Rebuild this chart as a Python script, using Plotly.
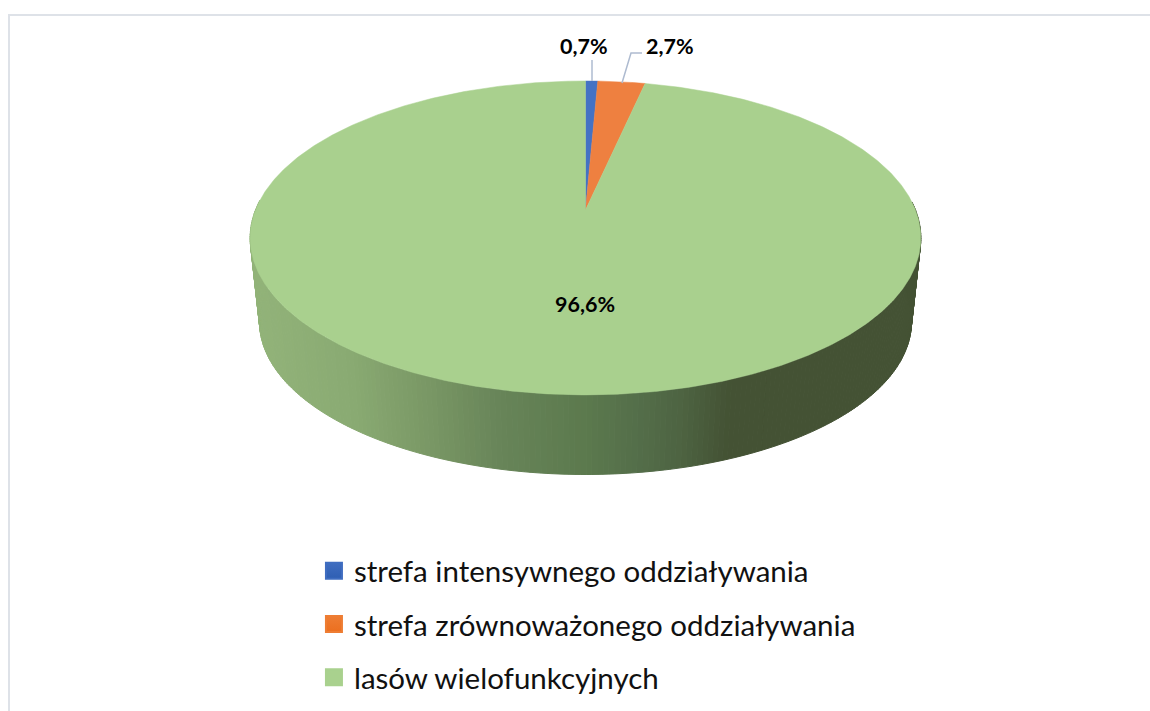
import numpy as np
import plotly.graph_objects as go

categories = ["strefa intensywnego oddziaływania", "strefa zrównoważonego oddziaływania", "lasów wielofunkcyjnych"]
values = [0.7, 2.7, 96.6]
labels = ["0,7%", "2,7%", "96,6%"]
colors = ["#4472C4", "#EE8040", "#A9D08E"]
legend_colors = ["#3F6DC0", "#EE7D33", "#A9D18E"]
legend_shades = ["#2F5FB3", "#EC6F1F", "#A9D18E"]

# projection of the disc (pixel-like plotting space)
CX, CY, K, A, B = 585.5, 210.0, 0.178, 330.0, -114.6
SCALE, MID_TOP, MID_BOT = 0.972, 238.0, 322.0
SHADE_X = [250, 350, 420, 500, 585, 640, 680, 730, 925]
SHADE_R = [0x93, 0x8A, 0x7C, 0x68, 0x5C, 0x54, 0x4E, 0x44, 0x44]
SHADE_G = [0xB4, 0xAB, 0x9A, 0x85, 0x7A, 0x6E, 0x64, 0x52, 0x52]
SHADE_B = [0x7A, 0x73, 0x67, 0x59, 0x4E, 0x4A, 0x42, 0x34, 0x34]


def rim(theta):
    u, v = np.sin(theta), np.cos(theta)
    d = 1 + K * v
    return CX + A * u / d, (B * v + CY) / d


def lower(x, y):
    return CX + (x - CX) * SCALE, MID_BOT + (y - MID_TOP) * SCALE


fractions = np.array(values) / sum(values)
edges = np.concatenate([[0], np.cumsum(fractions)]) * 2 * np.pi

fig = go.Figure()

# side wall of the large slice
thetas = np.linspace(edges[2], edges[3], 420)
for t0, t1 in zip(thetas[:-1], thetas[1:]):
    x0, y0 = rim(t0)
    x1, y1 = rim(t1)
    if min(y0, y1) < 200:
        continue
    bx0, by0 = lower(x0, y0)
    bx1, by1 = lower(x1, y1)
    xm = (x0 + x1 + bx0 + bx1) / 4
    col = "rgb(%d,%d,%d)" % (np.interp(xm, SHADE_X, SHADE_R),
                             np.interp(xm, SHADE_X, SHADE_G),
                             np.interp(xm, SHADE_X, SHADE_B))
    fig.add_trace(go.Scatter(x=[x0, x1, bx1, bx0, x0], y=[y0, y1, by1, by0, y0],
                             mode="lines", fill="toself", fillcolor=col,
                             line=dict(color=col, width=1), showlegend=False, hoverinfo="skip"))

# top faces
for i, cat in enumerate(categories):
    n = max(12, int(values[i] * 8))
    th = np.linspace(edges[i], edges[i + 1], n)
    xs, ys = rim(th)
    fig.add_trace(go.Scatter(x=[CX, *xs, CX], y=[CY, *ys, CY], mode="lines", fill="toself",
                             fillcolor=colors[i], line=dict(color=colors[i], width=0.5),
                             showlegend=False, name=cat, hoverinfo="name+text", text=labels[i]))

# legend entries
for i, cat in enumerate(categories):
    fig.add_trace(go.Scatter(x=[None], y=[None], mode="markers", name=cat, legendgroup=cat,
                             marker=dict(symbol="square", size=18, color=legend_colors[i],
                                         line=dict(color=legend_colors[i], width=2),
                                         gradient=dict(type="vertical", color=legend_shades[i]))))

# leader lines
leader = "#AEBBD0"
fig.add_trace(go.Scatter(x=[592, 592], y=[60, 81], mode="lines", line=dict(color=leader, width=1.5),
                         showlegend=False, hoverinfo="skip"))
fig.add_trace(go.Scatter(x=[622, 631, 642], y=[83, 53, 53], mode="lines", line=dict(color=leader, width=1.5),
                         showlegend=False, hoverinfo="skip"))

font_label = dict(family="Lato", size=21.5, color="#000000")
for txt, x, y in zip(labels, [584, 670, 585], [46, 46, 304]):
    fig.add_annotation(x=x, y=y, text="<b>%s</b>" % txt, showarrow=False, font=font_label)

border = "#DEE2E8"
fig.add_shape(type="line", x0=9, x1=9, y0=14, y1=711, line=dict(color=border, width=2))
fig.add_shape(type="line", x0=8, x1=1150, y0=15, y1=15, line=dict(color=border, width=2))

fig.update_layout(
    width=1150, height=711, margin=dict(l=0, r=0, t=0, b=0),
    paper_bgcolor="white", plot_bgcolor="white",
    xaxis=dict(range=[0, 1150], visible=False, fixedrange=True),
    yaxis=dict(range=[711, 0], visible=False, fixedrange=True),
    legend=dict(x=0.273, y=0.2335, xanchor="left", yanchor="top", tracegroupgap=12,
                font=dict(family="Lato", size=29.5, color="#111111"), bgcolor="rgba(0,0,0,0)"),
)
fig.write_html("out.html", config=dict(displayModeBar=False),
               post_script="document.body.style.margin='0';document.body.style.overflow='hidden';")
